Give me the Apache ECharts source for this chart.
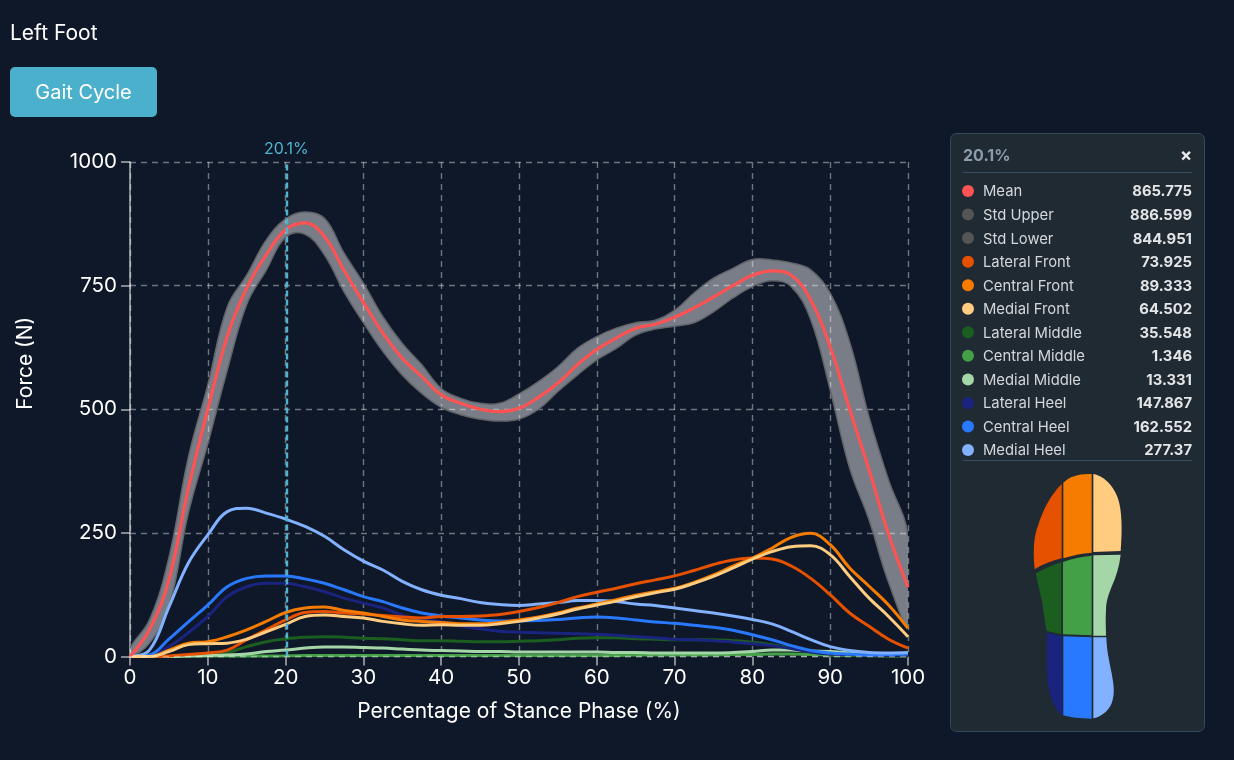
<!DOCTYPE html>
<html><head><meta charset="utf-8">
<style>html,body{margin:0;padding:0;background:#0f1829;}#c{width:1234px;height:760px;}</style>
<script src="https://cdn.jsdelivr.net/npm/echarts@6/dist/echarts.min.js"></script>
</head><body><div id="c"></div>
<script>
const percent = [0,2.5,5,7.5,10,12.5,15,17.5,20,22.5,25,27.5,30,32.5,35,37.5,40,42.5,45,47.5,50,52.5,55,57.5,60,62.5,65,67.5,70,72.5,75,77.5,80,82.5,85,87.5,90,92.5,95,97.5,100];
const mean = [0,54,155,340,500,647,745,812,863,877,849,781,716,654,603,566,529,512,500,495,502,524,553,590,621,644,664,672,686,705,727,750,771,780,771,721,626,500,377,247,140];
const stdUpper = [17,74,200,403,549,707,771,842,885,899,886,816,755,687,633,590,542,522,512,512,531,556,586,623,647,664,675,680,700,735,765,785,803,802,796,782,735,636,484,357,245];
const stdLower = [0,27,100,290,430,579,712,781,848,854,812,738,675,617,569,532,504,489,480,476,480,500,536,569,600,623,650,662,668,675,697,725,748,760,748,681,539,381,276,150,63];
const lateralFront = [0,0,1,4,7,13,34,54,74,89,91,88,86,83,80,78,81,81,82,85,91,99,109,121,130,138,147,155,163,174,186,195,199,197,183,158,125,88,61,35,17];
const centralFront = [0,0,13,27,30,40,54,71,89,98,100,93,88,81,74,71,69,66,66,69,74,80,88,98,106,115,124,131,138,150,165,183,199,219,241,249,226,179,142,104,57];
const medialFront = [0,0,10,24,26,27,35,50,65,81,84,81,78,71,66,63,64,63,63,66,71,78,86,96,104,112,121,129,136,148,162,179,197,212,222,224,206,162,118,81,40];
const lateralMiddle = [0,0,0,1,3,8,20,30,36,39,40,39,37,36,34,32,32,31,30,30,31,32,34,37,38,38,36,35,34,34,34,32,29,24,17,10,5,3,2,1,1];
const centralMiddle = [0,0,0,1,1,1,1,1,1.3,2,2,2,2,2,2,2,2,2,2,2,2,2,2,2,2,2,3,3,3,3,3,4,4,5,5,4,3,2,2,1,1];
const medialMiddle = [0,0,0,1,2,3,5,10,13,17,19,19,18,17,15,13,12,11,10,10,9,9,9,9,9,8,8,7,7,7,7,8,10,13,13,11,10,7,3,2,2];
const lateralHeel = [0,1,20,48,81,121,141,148,148,141,131,118,108,98,84,74,71,62,56,51,49,48,47,46,45,43,40,38,35,34,32,29,26,22,16,9,5,4,3,2,2];
const centralHeel = [0,3,35,70,104,141,158,163,163,157,148,135,121,111,98,88,82,78,74,72,72,73,75,78,80,78,74,70,67,63,59,53,44,34,22,12,7,5,3,4,5];
const medialHeel = [0,13,100,189,246,293,300,290,278,263,243,216,193,175,152,135,124,117,109,105,103,106,109,113,113,111,106,103,98,93,88,82,75,66,51,34,20,12,8,7,8];
const cursorPercent = 20.1;
const axisTicksY = [0,250,500,750,1000];
const rowNames = ['Mean','Std Upper','Std Lower','Lateral Front','Central Front','Medial Front','Lateral Middle','Central Middle','Medial Middle','Lateral Heel','Central Heel','Medial Heel'];
const rowValues = ['865.775','886.599','844.951','73.925','89.333','64.502','35.548','1.346','13.331','147.867','162.552','277.37'];
const rowColors = ['#ff5252','#555555','#555555','#e65100','#f57c00','#ffcc80','#1b5e20','#43a047','#a5d6a7','#1a237e','#2979ff','#82b1ff'];

const FONT = 'Inter, "Noto Sans", sans-serif';
const pairs = a => a.map((v,i)=>[percent[i],v]);
const EDGE = '#62646a';

const lineSeries = (name,data,color,width) => ({
  name, type:'line', data:pairs(data), smooth:0.4, showSymbol:false, symbol:'none',
  lineStyle:{color,width:width||3}, itemStyle:{color}, silent:true, z:3
});

const series = [
  {name:'Std Band',type:'custom',data:[[percent[0],stdUpper[0]]],silent:true,z:2,clip:true,
   renderItem:(params,api)=>{
     const top = stdUpper.map((v,i)=>api.coord([percent[i],v]));
     const bottom = stdLower.map((v,i)=>api.coord([percent[i],v])).reverse();
     return {type:'polygon',shape:{points:top.concat(bottom),smooth:0.4},
       style:{fill:'rgba(255,255,255,0.44)',stroke:EDGE,lineWidth:1.5}};
   }},
  lineSeries('Central Middle',centralMiddle,'#43a047'),
  lineSeries('Lateral Middle',lateralMiddle,'#1b5e20'),
  lineSeries('Medial Middle',medialMiddle,'#a5d6a7'),
  lineSeries('Lateral Heel',lateralHeel,'#1a237e'),
  lineSeries('Central Heel',centralHeel,'#2979ff'),
  lineSeries('Medial Heel',medialHeel,'#82b1ff'),
  lineSeries('Lateral Front',lateralFront,'#e65100'),
  lineSeries('Central Front',centralFront,'#f57c00'),
  lineSeries('Medial Front',medialFront,'#ffcc80'),
  Object.assign(lineSeries('Mean',mean,'#ff5252',3.2),{
    z:4,
    markLine:{silent:true,symbol:'none',animation:false,z:6,precision:1,
      data:[
        {xAxis:cursorPercent,lineStyle:{color:'#4fb3cf',type:[6,3],width:2.4},
         label:{show:true,position:'end',formatter:cursorPercent+'%',color:'#4fb3cf',fontSize:16,fontFamily:FONT,distance:5}},
        {yAxis:0,lineStyle:{color:'rgba(255,255,255,0.4)',type:[6,5],width:1.4},label:{show:false}}
      ]}
  })
];

const rowY0 = 191, rowStep = 23.55;
const rows = [];
rowNames.forEach((n,i)=>{
  const y = rowY0 + i*rowStep;
  rows.push({type:'circle',shape:{cx:968,cy:y,r:6},style:{fill:rowColors[i]},z:20});
  rows.push({type:'text',x:983,y:y+1,style:{text:n,fill:'#d4d7da',font:'400 14.8px '+FONT,textVerticalAlign:'middle',textAlign:'left'},z:20});
  rows.push({type:'text',x:1192,y:y+1,style:{text:rowValues[i],fill:'#e3e5e7',font:'700 14.8px '+FONT,textVerticalAlign:'middle',textAlign:'right'},z:20});
});

const footParts = [
  ['#e65100','M155,72 C120,105 95,160 85,195 C72,225 68,270 74,328 C100,312 125,302 155,295 Z'],
  ['#f57c00','M160,68 C180,48 210,40 245,42 L245,278 C215,280 185,287 160,295 Z'],
  ['#ffcc80','M250,42 C290,50 320,90 328,130 C338,175 335,230 332,273 L250,276 Z'],
  ['#1b5e20','M77,340 C100,328 125,315 154,307 L154,523 L110,513 C105,490 100,450 95,420 C90,395 82,365 77,340 Z'],
  ['#43a047','M159,306 C185,296 215,290 245,287 L245,526 L159,523 Z'],
  ['#a5d6a7','M250,286 L332,284 C328,320 318,350 305,380 C295,405 288,425 288,450 C286,480 288,505 288,527 L250,527 Z'],
  ['#1a237e','M111,518 L155,528 L157,766 C135,750 118,710 112,660 C110,610 110,560 111,518 Z'],
  ['#2979ff','M160,529 L245,532 L245,776 C210,776 180,772 160,766 Z'],
  ['#82b1ff','M250,532 L289,532 C290,570 297,600 305,640 C312,680 315,700 305,730 C295,755 270,772 250,775 Z']
];
footParts.forEach(([fill,d],i)=>echarts.graphic.registerShape('footPart'+i, echarts.graphic.extendPath(d,{})));
const foot = {type:'group',x:1010,y:460,scaleX:1/3,scaleY:1/3,z:20,
  children:footParts.map(([fill],i)=>({type:'footPart'+i,style:{fill},z:20}))};

const graphic = [
  {type:'text',x:10,y:34,style:{text:'Left Foot',fill:'#ffffff',font:'400 21px '+FONT,textVerticalAlign:'middle'},z:20},
  {type:'rect',shape:{x:10,y:67,width:147,height:50,r:5},style:{fill:'#4bb0cb'},z:20},
  {type:'text',x:83.5,y:92.5,style:{text:'Gait Cycle',fill:'#ffffff',font:'400 20px '+FONT,textAlign:'center',textVerticalAlign:'middle'},z:21},
  {type:'rect',shape:{x:950.5,y:133.5,width:254,height:598,r:6},style:{fill:'#1f2a33',stroke:'#35495c',lineWidth:1},z:19},
  {type:'text',x:963,y:156,style:{text:cursorPercent+'%',fill:'#8d9cac',font:'700 16px '+FONT,textVerticalAlign:'middle'},z:20},
  {type:'text',x:1186,y:156,style:{text:'×',fill:'#e8eaec',font:'700 18px '+FONT,textAlign:'center',textVerticalAlign:'middle'},z:20},
  {type:'line',shape:{x1:963,y1:172.5,x2:1192,y2:172.5},style:{stroke:'#3a4d5f',lineWidth:1},z:20},
  {type:'line',shape:{x1:963,y1:460.5,x2:1192,y2:460.5},style:{stroke:'#3a4d5f',lineWidth:1},z:20},
  ...rows, foot
];

const labelStyle = {color:'#ffffff',fontSize:20.5,fontFamily:FONT};
const nameStyle = {color:'#ffffff',fontSize:21,fontFamily:FONT};
const gridLine = {show:true,lineStyle:{color:'rgba(255,255,255,0.4)',type:[6,5],width:1.4}};
const axisLine = {show:true,onZero:false,lineStyle:{color:'rgba(255,255,255,0.62)',width:1.6}};
const axisTick = {show:true,length:9,lineStyle:{color:'rgba(255,255,255,0.62)',width:1.6}};

const chart = echarts.init(document.getElementById('c'),null,{width:1234,height:760});
chart.setOption({
  animation:false,
  backgroundColor:'#0f1829',
  grid:{left:130,right:326,top:162,bottom:103.5,containLabel:false,outerBoundsMode:'none'},
  xAxis:{type:'value',min:0,max:100,interval:10,name:'Percentage of Stance Phase (%)',nameLocation:'middle',nameGap:45,
    nameTextStyle:nameStyle,axisLabel:Object.assign({margin:11},labelStyle),axisLine:{show:false},axisTick,splitLine:gridLine},
  yAxis:{type:'value',min:axisTicksY[0],max:axisTicksY[axisTicksY.length-1],interval:250,name:'Force (N)',nameLocation:'middle',nameGap:94,
    nameTextStyle:Object.assign({padding:[0,0,0,92]},nameStyle),axisLabel:Object.assign({margin:13,formatter:v=>String(v)},labelStyle),axisLine,axisTick,splitLine:gridLine},
  series,
  graphic
});
</script></body></html>
